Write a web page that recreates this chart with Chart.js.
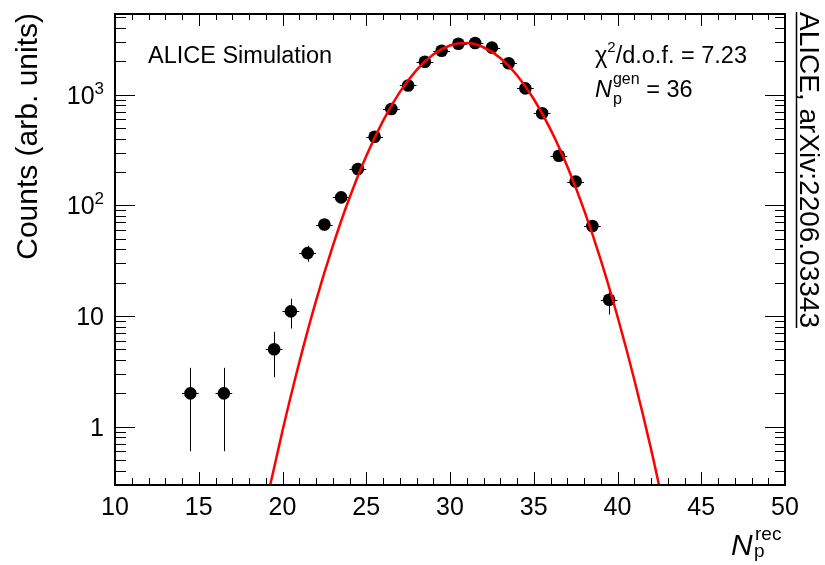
<!DOCTYPE html>
<html>
<head>
<meta charset="utf-8">
<script src="https://cdn.jsdelivr.net/npm/chart.js@4/dist/chart.umd.min.js"></script>
<style>
  html, body { margin: 0; padding: 0; background: #ffffff; }
  #wrap { width: 825px; height: 565px; }
</style>
</head>
<body>
<div id="wrap"><canvas id="c" width="825" height="565"></canvas></div>
<script>
// Reconstructed proton multiplicity: bin centres, counts and statistical errors
const binCenters = [14.5, 16.5, 19.5, 20.5, 21.5, 22.5, 23.5, 24.5, 25.5, 26.5, 27.5, 28.5,
                    29.5, 30.5, 31.5, 32.5, 33.5, 34.5, 35.5, 36.5, 37.5, 38.5, 39.5];
const counts = [2, 2, 5, 11, 37, 67, 118, 213, 416, 741, 1210, 1980,
                2490, 2880, 2925, 2660, 1920, 1140, 680, 280, 164, 65, 14];
const countErrors = [1.4, 1.4, 2.2, 3.3, 6.1, 8.2, 10.9, 14.6, 20.4, 27.2, 34.8, 44.5,
                     49.9, 53.7, 54.1, 51.6, 43.8, 33.8, 26.1, 16.7, 12.8, 8.1, 3.7];
const binHalfWidths = [0.5, 0.5, 0.5, 0.5, 0.5, 0.5, 0.5, 0.5, 0.5, 0.5, 0.5, 0.5,
                       0.5, 0.5, 0.5, 0.5, 0.5, 0.5, 0.5, 0.5, 0.5, 0.5, 0.5];

// Fitted curve sampled along N_p^rec
const fitX = [19, 20, 21, 22, 23, 24, 25, 26, 27, 28, 29, 30, 31,
              32, 33, 34, 35, 36, 37, 38, 39, 40, 41, 42, 43];
const fitY = [0.196, 0.92, 3.8, 13.7, 42.8, 117, 279, 580, 1053, 1667, 2304, 2778, 2922,
              2681, 2146, 1499, 913, 486, 225, 91, 32.2, 9.9, 2.67, 0.63, 0.128];

// Axis ticks and labels
const xMajorTicks = [10, 15, 20, 25, 30, 35, 40, 45, 50];
const xTickLabels = ['10', '15', '20', '25', '30', '35', '40', '45', '50'];
const yMajorTicks = [1, 10, 100, 1000];
const yTickLabels = ['1', '10', '10^2', '10^3'];

const FONT = '"Liberation Sans", Arial, Helvetica, sans-serif';

function font(size, italic) {
  return (italic ? 'italic ' : '') + size + 'px ' + FONT;
}

const rootStyle = {
  id: 'rootStyle',
  beforeDatasetsDraw(chart) {
    const ctx = chart.ctx;
    const xs = chart.scales.x, ys = chart.scales.y;
    ctx.save();
    ctx.strokeStyle = '#000';
    ctx.lineWidth = 1;
    ctx.beginPath();
    for (let i = 0; i < binCenters.length; i++) {
      const px = xs.getPixelForValue(binCenters[i]);
      const py = ys.getPixelForValue(counts[i]);
      const lo = Math.max(counts[i] - countErrors[i], 1e-6);
      const pTop = ys.getPixelForValue(counts[i] + countErrors[i]);
      const pBot = Math.min(ys.getPixelForValue(lo), chart.chartArea.bottom);
      const xl = xs.getPixelForValue(binCenters[i] - binHalfWidths[i]);
      const xr = xs.getPixelForValue(binCenters[i] + binHalfWidths[i]);
      const cx = Math.round(px) + 0.5, cy = Math.round(py) + 0.5;
      ctx.moveTo(cx, pTop); ctx.lineTo(cx, pBot);
      ctx.moveTo(xl, cy); ctx.lineTo(xr, cy);
    }
    ctx.stroke();
    ctx.restore();
  },
  afterDraw(chart) {
    const ctx = chart.ctx;
    const a = chart.chartArea;
    const xs = chart.scales.x, ys = chart.scales.y;
    ctx.save();

    // tick marks on all four sides, pointing inwards
    ctx.strokeStyle = '#000';
    ctx.lineWidth = 1;
    ctx.beginPath();
    for (let v = xs.min; v <= xs.max; v++) {
      const major = xMajorTicks.includes(v);
      const x = Math.round(xs.getPixelForValue(v)) + 0.5;
      ctx.moveTo(x, a.bottom); ctx.lineTo(x, a.bottom - (major ? 13 : 7));
      ctx.moveTo(x, a.top); ctx.lineTo(x, a.top + (major ? 12 : 6));
    }
    for (let d = 0.1; d <= 1000; d *= 10) {
      for (let k = 1; k <= 9; k++) {
        const v = Math.round(k * d * 1000) / 1000;
        if (v < ys.min || v > ys.max) continue;
        const major = yMajorTicks.includes(v);
        const y = Math.round(ys.getPixelForValue(v)) + 0.5;
        ctx.moveTo(a.left, y); ctx.lineTo(a.left + (major ? 20 : 11), y);
        ctx.moveTo(a.right, y); ctx.lineTo(a.right - (major ? 20 : 10), y);
      }
    }
    ctx.stroke();

    // frame
    ctx.lineWidth = 2;
    ctx.strokeRect(a.left, a.top, a.right - a.left, a.bottom - a.top);

    ctx.fillStyle = '#000';
    // x tick labels
    ctx.font = font(25);
    ctx.textAlign = 'center';
    ctx.textBaseline = 'alphabetic';
    xMajorTicks.forEach((v, i) => {
      ctx.fillText(xTickLabels[i], xs.getPixelForValue(v), 515);
    });

    // y tick labels, with exponents raised
    yMajorTicks.forEach((v, i) => {
      const y = ys.getPixelForValue(v) + 9;
      const parts = yTickLabels[i].split('^');
      const rightEdge = 104;
      if (parts.length === 2) {
        ctx.font = font(17);
        const ew = ctx.measureText(parts[1]).width;
        ctx.textAlign = 'left';
        ctx.fillText(parts[1], rightEdge - ew, y - 10);
        ctx.font = font(25);
        ctx.textAlign = 'right';
        ctx.fillText(parts[0], rightEdge - ew, y);
      } else {
        ctx.font = font(25);
        ctx.textAlign = 'right';
        ctx.fillText(parts[0], rightEdge, y);
      }
    });

    // y axis title
    ctx.save();
    ctx.translate(37, 13);
    ctx.rotate(-Math.PI / 2);
    ctx.font = font(30);
    ctx.textAlign = 'right';
    ctx.fillText('Counts (arb. units)', 0, 0);
    ctx.restore();

    // x axis title N_p^rec
    ctx.textAlign = 'left';
    ctx.font = font(30, true);
    ctx.fillText('N', 731, 555);
    ctx.font = font(19);
    ctx.fillText('rec', 755, 540);
    ctx.fillText('p', 754, 557);

    // annotations
    ctx.font = font(23.5);
    ctx.fillText('ALICE Simulation', 148, 63);

    let x = 595;
    ctx.font = font(23.5);
    ctx.fillText('\u03c7', x, 63);
    x += ctx.measureText('\u03c7').width;
    ctx.font = font(15);
    ctx.fillText('2', x, 52);
    x += ctx.measureText('2').width;
    ctx.font = font(23.5);
    ctx.fillText('/d.o.f. = 7.23', x, 63);

    x = 595;
    ctx.font = font(23.5, true);
    ctx.fillText('N', x, 97);
    x += ctx.measureText('N').width + 1;
    ctx.font = font(16);
    ctx.fillText('gen', x, 84);
    ctx.fillText('p', x, 104);
    x += ctx.measureText('gen').width;
    ctx.font = font(23.5);
    ctx.fillText(' = 36', x, 97);

    // publication reference along the right edge
    ctx.save();
    ctx.translate(800, 12);
    ctx.rotate(Math.PI / 2);
    ctx.font = font(28);
    ctx.textAlign = 'left';
    const ref = 'ALICE, arXiv:2206.03343';
    ctx.fillText(ref, 0, 0);
    const w = ctx.measureText(ref).width;
    ctx.lineWidth = 1.5;
    ctx.beginPath();
    ctx.moveTo(0, 3.5); ctx.lineTo(w, 3.5);
    ctx.stroke();
    ctx.restore();

    ctx.restore();
  }
};

new Chart(document.getElementById('c').getContext('2d'), {
  type: 'scatter',
  data: {
    datasets: [
      {
        label: 'fit',
        data: fitX.map((x, i) => ({ x: x, y: fitY[i] })),
        showLine: true,
        borderColor: '#ff0000',
        borderWidth: 2.5,
        pointRadius: 0,
        cubicInterpolationMode: 'monotone',
        clip: 0,
        order: 0
      },
      {
        label: 'simulation',
        data: binCenters.map((x, i) => ({ x: x, y: counts[i] })),
        showLine: false,
        pointRadius: 6.3,
        pointBackgroundColor: '#000',
        pointBorderColor: '#000',
        pointBorderWidth: 0,
        order: 1
      }
    ]
  },
  options: {
    responsive: false,
    animation: false,
    devicePixelRatio: 1,
    events: [],
    layout: { padding: { left: 115, right: 40, top: 14, bottom: 80 } },
    plugins: { legend: { display: false }, tooltip: { enabled: false } },
    scales: {
      x: { type: 'linear', min: 10, max: 50, display: false },
      y: { type: 'logarithmic', min: 0.297, max: 5354, display: false }
    }
  },
  plugins: [rootStyle]
});
</script>
</body>
</html>
